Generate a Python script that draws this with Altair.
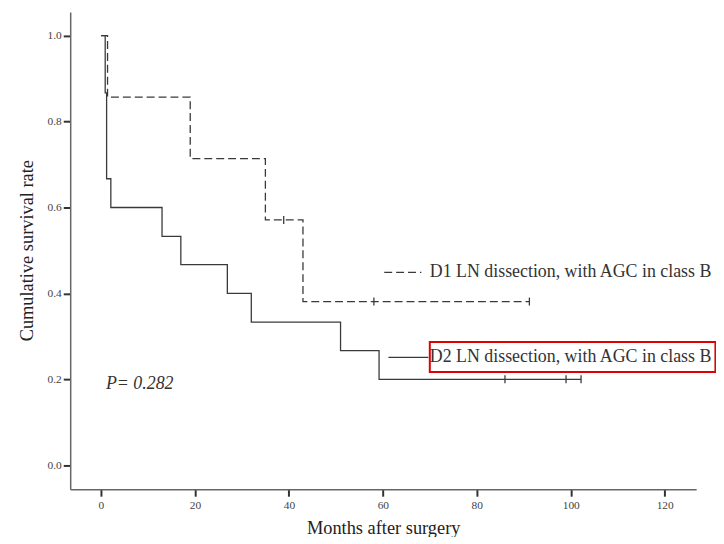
import altair as alt
import pandas as pd

# ---- data ----
d1_time = [0, 1.4, 19.0, 35.0, 43.0, 91.2]
d1_surv = [1.0, 0.857, 0.714, 0.571, 0.381, 0.381]
d1_cens_time = [38.9, 58.1, 91.2]
d1_cens_surv = [0.571, 0.381, 0.381]

d2_time = [0, 0.9, 1.2, 2.1, 13.0, 17.0, 26.9, 32.0, 51.0, 59.2, 102.2]
d2_surv = [1.0, 0.867, 0.667, 0.6, 0.533, 0.467, 0.4, 0.333, 0.267, 0.2, 0.2]
d2_cens_time = [86.0, 99.0, 102.2]
d2_cens_surv = [0.2, 0.2, 0.2]

x_ticks = [0, 20, 40, 60, 80, 100, 120]
y_ticks = [0.0, 0.2, 0.4, 0.6, 0.8, 1.0]

legend_labels = ["D1 LN dissection, with AGC in class B", "D2 LN dissection, with AGC in class B"]
p_text = "P= 0.282"

LINE = "#3a3a3a"
TXT = "#333333"
FONT = "Liberation Serif"

rows = []
for i, (t, s) in enumerate(zip(d1_time, d1_surv)):
    rows.append({"group": "D1", "time": t, "surv": s, "order": i})
for i, (t, s) in enumerate(zip(d2_time, d2_surv)):
    rows.append({"group": "D2", "time": t, "surv": s, "order": i})
lines_df = pd.DataFrame(rows)

cens_df = pd.DataFrame(
    [{"group": "D1", "time": t, "surv": s} for t, s in zip(d1_cens_time, d1_cens_surv)]
    + [{"group": "D2", "time": t, "surv": s} for t, s in zip(d2_cens_time, d2_cens_surv)]
)

xs = alt.Scale(domain=[-6.55, 126.7], nice=False, zero=False)
ys = alt.Scale(domain=[-0.056, 1.055], nice=False, zero=False)

dash_scale = alt.Scale(domain=["D1", "D2"], range=[[8, 4], [1, 0]])

x_axis = alt.Axis(values=x_ticks, format="d", title="Months after surgery",
                  titleBaseline="middle", titleY=39, grid=False)
y_axis = alt.Axis(values=y_ticks, format=".1f", title="Cumulative survival rate",
                  titleBaseline="middle", titleX=-44, titleY=240, grid=False)

base_x = alt.X("time:Q", scale=xs, axis=x_axis)
base_y = alt.Y("surv:Q", scale=ys, axis=y_axis)

lines = alt.Chart(lines_df).mark_line(interpolate="step-after", strokeWidth=1.3, color=LINE).encode(
    x=base_x, y=base_y,
    strokeDash=alt.StrokeDash("group:N", scale=dash_scale, legend=None),
    detail="group:N", order="order:Q",
)

cens = alt.Chart(cens_df).mark_point(shape="M0,-1L0,1", size=64, strokeWidth=1.3,
                                     color=LINE, filled=False, opacity=1).encode(
    x=alt.X("time:Q", scale=xs), y=alt.Y("surv:Q", scale=ys)
)

# legend (placed in data coordinates)
leg_df = pd.DataFrame({
    "group": ["D1", "D2"],
    "x0": [60.3, 61.2],
    "x1": [68.2, 69.7],
    "y": [0.449, 0.251],
    "tx": [70.0, 70.0],
    "label": legend_labels,
})
leg_lines = alt.Chart(leg_df).mark_rule(strokeWidth=1.3, color=LINE).encode(
    x=alt.X("x0:Q", scale=xs), x2="x1:Q", y=alt.Y("y:Q", scale=ys),
    strokeDash=alt.StrokeDash("group:N", scale=dash_scale, legend=None),
)
leg_text = alt.Chart(leg_df).mark_text(align="left", baseline="middle", font=FONT,
                                       fontSize=18, color=TXT).encode(
    x=alt.X("tx:Q", scale=xs), y=alt.Y("y:Q", scale=ys), text="label:N"
)

box_df = pd.DataFrame({"x0": [70.0], "x1": [130.8], "y0": [0.287], "y1": [0.217]})
box = alt.Chart(box_df).mark_rect(fillOpacity=0, stroke="#e00000", strokeWidth=2).encode(
    x=alt.X("x0:Q", scale=xs), x2="x1:Q", y=alt.Y("y0:Q", scale=ys), y2="y1:Q"
)

p_df = pd.DataFrame({"x": [1.06], "y": [0.19], "t": [p_text]})
p_mark = alt.Chart(p_df).mark_text(align="left", baseline="middle", font=FONT, fontSize=18,
                                   fontStyle="italic", color=TXT).encode(
    x=alt.X("x:Q", scale=xs), y=alt.Y("y:Q", scale=ys), text="t:N"
)

chart = alt.layer(lines, cens, leg_lines, leg_text, box, p_mark).properties(
    width=631, height=481,
    autosize=alt.AutoSizeParams(type="none"),
    padding={"left": 62.7, "top": 2, "right": 20, "bottom": 46},
).configure_view(stroke=None).configure_axis(
    domainColor="#666666", domainWidth=1.5,
    tickColor="#333333", tickWidth=2, tickSize=7,
    labelFont=FONT, labelFontSize=11.5, labelColor="#444444", labelPadding=3,
    titleFont=FONT, titleFontSize=18.5, titleColor="#222222", titleFontWeight="normal",
).configure_axisY(labelPadding=2)

chart.save("out.html", embed_options={"renderer": "svg", "actions": False})
